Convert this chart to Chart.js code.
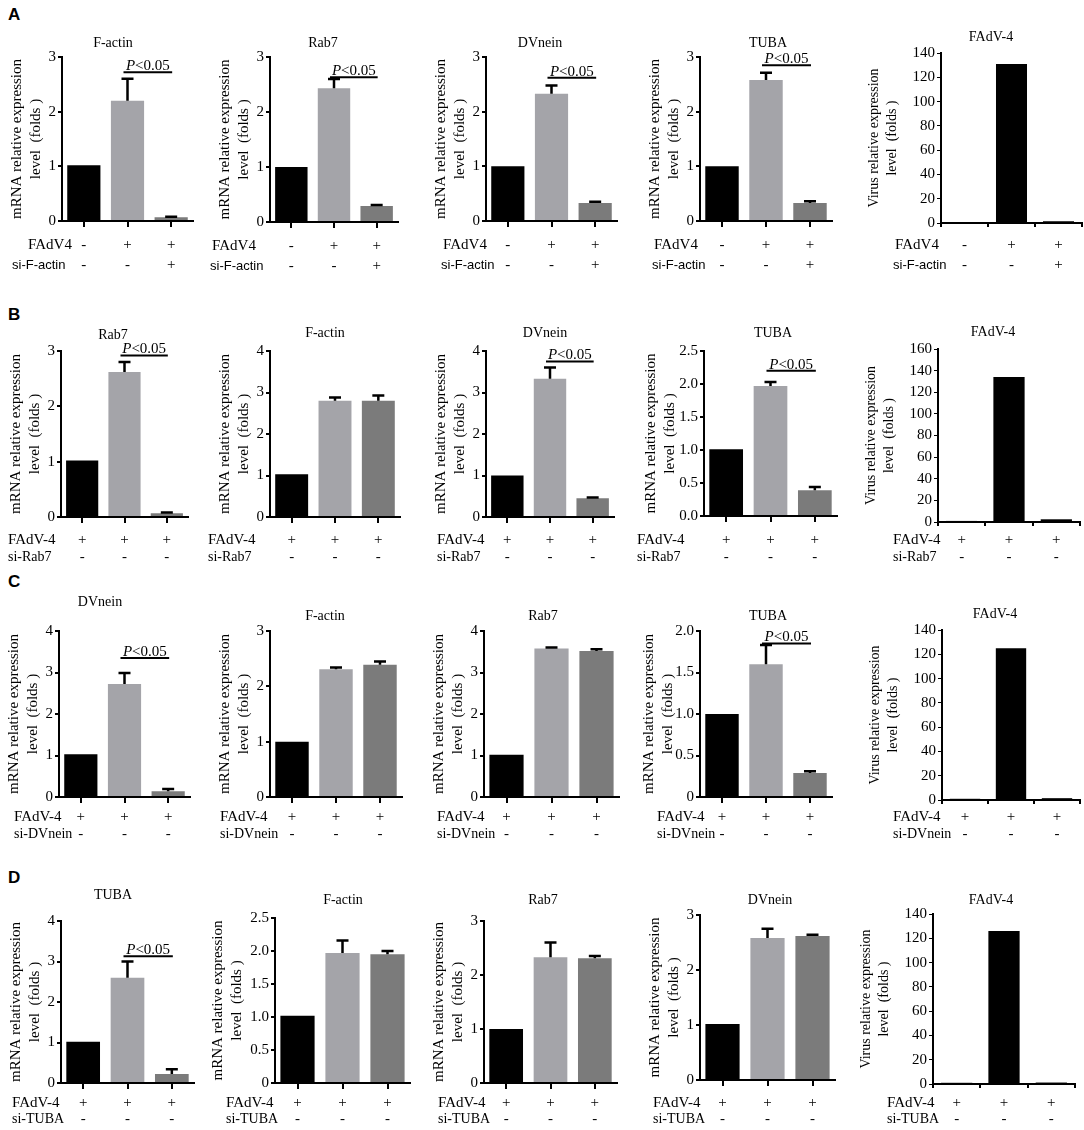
<!DOCTYPE html>
<html>
<head>
<meta charset="utf-8">
<script src="https://cdn.jsdelivr.net/npm/chart.js@4.4.1/dist/chart.umd.min.js"></script>
<style>
  body { margin: 0; background: #fff; width: 1084px; height: 1130px; position: relative; overflow: hidden; }
  canvas { position: absolute; }
  .letter { position: absolute; font: bold 17px 'Liberation Sans', Arial, sans-serif; color: #000; }
</style>
</head>
<body>
<div class="letter" style="left:8px;top:5px">A</div>
<div class="letter" style="left:8px;top:305px">B</div>
<div class="letter" style="left:8px;top:572px">C</div>
<div class="letter" style="left:8px;top:868px">D</div>
<script>
// --- groups and condition rows ---
const conditions = ['Mock', 'FAdV-4', 'FAdV-4 + siRNA'];
const infectA = ['-', '+', '+'];
const knockA = ['-', '-', '+'];
const infectBCD = ['+', '+', '+'];
const knockBCD = ['-', '-', '-'];
const rowNamesA = ['FAdV4', 'si-F-actin'];
const rowNamesB = ['FAdV-4', 'si-Rab7'];
const rowNamesC = ['FAdV-4', 'si-DVnein'];
const rowNamesD = ['FAdV-4', 'si-TUBA'];

// --- y tick labels ---
const ticks3 = ['0', '1', '2', '3'];
const ticks4 = ['0', '1', '2', '3', '4'];
const ticksTubaB = ['0.0', '0.5', '1.0', '1.5', '2.0', '2.5'];
const ticksTubaC = ['0', '0.5', '1.0', '1.5', '2.0'];
const ticksFactinD = ['0', '0.5', '1.0', '1.5', '2.0', '2.5'];
const ticksVirus140 = ['0', '20', '40', '60', '80', '100', '120', '140'];
const ticksVirus160 = ['0', '20', '40', '60', '80', '100', '120', '140', '160'];

// --- A: si-F-actin ---
const aFactin = [1.02, 2.2, 0.07];
const aFactinErr = [0, 0.4, 0.01];
const aRab7 = [1.0, 2.43, 0.29];
const aRab7Err = [0, 0.17, 0.02];
const aDvnein = [1.0, 2.33, 0.33];
const aDvneinErr = [0, 0.15, 0.02];
const aTuba = [1.0, 2.58, 0.33];
const aTubaErr = [0, 0.13, 0.03];
const aVirus = [0, 131, 1.5];
const sigA = [2.72, 2.63, 2.62, 2.85, null];

// --- B: si-Rab7 ---
const bRab7 = [1.02, 2.62, 0.07];
const bRab7Err = [0, 0.18, 0.01];
const bFactin = [1.03, 2.8, 2.8];
const bFactinErr = [0, 0.08, 0.13];
const bDvnein = [1.0, 3.33, 0.45];
const bDvneinErr = [0, 0.27, 0.02];
const bTuba = [1.01, 1.97, 0.39];
const bTubaErr = [0, 0.06, 0.05];
const bVirus = [1, 134, 2.5];
const sigB = [2.92, null, 3.75, 2.2, null];

// --- C: si-DVnein ---
const cDvnein = [1.03, 2.72, 0.14];
const cDvneinErr = [0, 0.27, 0.05];
const cFactin = [1.0, 2.31, 2.39];
const cFactinErr = [0, 0.03, 0.06];
const cRab7 = [1.02, 3.58, 3.52];
const cRab7Err = [0, 0.02, 0.04];
const cTuba = [1.0, 1.6, 0.29];
const cTubaErr = [0, 0.23, 0.02];
const cVirus = [1, 125, 1.5];
const sigC = [3.35, null, null, 1.85, null];

// --- D: si-TUBA ---
const dTuba = [1.02, 2.6, 0.22];
const dTubaErr = [0, 0.4, 0.12];
const dFactin = [1.02, 1.97, 1.95];
const dFactinErr = [0, 0.19, 0.05];
const dRab7 = [1.0, 2.33, 2.31];
const dRab7Err = [0, 0.27, 0.04];
const dDvnein = [1.02, 2.58, 2.62];
const dDvneinErr = [0, 0.17, 0.02];
const dVirus = [1, 126, 1.2];
const sigD = [3.13, null, null, null, null];

const FONT = "'Liberation Serif', 'Times New Roman', serif";
const SANS = "'Liberation Sans', Arial, sans-serif";
const barColors = ['#000000', '#a4a4a9', '#7b7b7b'];
const virusColors = ['#000000', '#000000', '#000000'];

const panels = [
  { title: 'F-actin', vals: aFactin, err: aFactinErr, sig: sigA[0], ticks: ticks3, names: rowNamesA, signs: [infectA, knockA] },
  { title: 'Rab7', vals: aRab7, err: aRab7Err, sig: sigA[1], ticks: ticks3, names: rowNamesA, signs: [infectA, knockA] },
  { title: 'DVnein', vals: aDvnein, err: aDvneinErr, sig: sigA[2], ticks: ticks3, names: rowNamesA, signs: [infectA, knockA] },
  { title: 'TUBA', vals: aTuba, err: aTubaErr, sig: sigA[3], ticks: ticks3, names: rowNamesA, signs: [infectA, knockA] },
  { title: 'FAdV-4', vals: aVirus, virus: true, ticks: ticksVirus140, names: rowNamesA, signs: [infectA, knockA] },

  { title: 'Rab7', vals: bRab7, err: bRab7Err, sig: sigB[0], ticks: ticks3, names: rowNamesB, signs: [infectBCD, knockBCD] },
  { title: 'F-actin', vals: bFactin, err: bFactinErr, sig: sigB[1], ticks: ticks4, names: rowNamesB, signs: [infectBCD, knockBCD] },
  { title: 'DVnein', vals: bDvnein, err: bDvneinErr, sig: sigB[2], ticks: ticks4, names: rowNamesB, signs: [infectBCD, knockBCD] },
  { title: 'TUBA', vals: bTuba, err: bTubaErr, sig: sigB[3], ticks: ticksTubaB, names: rowNamesB, signs: [infectBCD, knockBCD] },
  { title: 'FAdV-4', vals: bVirus, virus: true, ticks: ticksVirus160, names: rowNamesB, signs: [infectBCD, knockBCD] },

  { title: 'DVnein', vals: cDvnein, err: cDvneinErr, sig: sigC[0], ticks: ticks4, names: rowNamesC, signs: [infectBCD, knockBCD] },
  { title: 'F-actin', vals: cFactin, err: cFactinErr, sig: sigC[1], ticks: ticks3, names: rowNamesC, signs: [infectBCD, knockBCD] },
  { title: 'Rab7', vals: cRab7, err: cRab7Err, sig: sigC[2], ticks: ticks4, names: rowNamesC, signs: [infectBCD, knockBCD] },
  { title: 'TUBA', vals: cTuba, err: cTubaErr, sig: sigC[3], ticks: ticksTubaC, names: rowNamesC, signs: [infectBCD, knockBCD] },
  { title: 'FAdV-4', vals: cVirus, virus: true, ticks: ticksVirus140, names: rowNamesC, signs: [infectBCD, knockBCD] },

  { title: 'TUBA', vals: dTuba, err: dTubaErr, sig: sigD[0], ticks: ticks4, names: rowNamesD, signs: [infectBCD, knockBCD] },
  { title: 'F-actin', vals: dFactin, err: dFactinErr, sig: sigD[1], ticks: ticksFactinD, names: rowNamesD, signs: [infectBCD, knockBCD] },
  { title: 'Rab7', vals: dRab7, err: dRab7Err, sig: sigD[2], ticks: ticks3, names: rowNamesD, signs: [infectBCD, knockBCD] },
  { title: 'DVnein', vals: dDvnein, err: dDvneinErr, sig: sigD[3], ticks: ticks3, names: rowNamesD, signs: [infectBCD, knockBCD] },
  { title: 'FAdV-4', vals: dVirus, virus: true, ticks: ticksVirus140, names: rowNamesD, signs: [infectBCD, knockBCD] }
];

// page layout: plot box [left, right, top, bottom], y-axis width, title centre, row label starts, row offsets
const layout = [
  { box: [62, 193, 57, 221], yW: 54, tx: 113, ty: 43, lx: [28, 12], rows: [24, 44] },
  { box: [270, 398, 57, 222], yW: 54, tx: 323, ty: 43, lx: [212, 210], rows: [24, 44] },
  { box: [486, 617, 57, 221], yW: 54, tx: 540, ty: 43, lx: [443, 441], rows: [24, 44] },
  { box: [700, 832, 57, 221], yW: 54, tx: 768, ty: 43, lx: [654, 652], rows: [24, 44] },
  { box: [941, 1082, 53, 223], yW: 75, tx: 991, ty: 37, lx: [895, 893], rows: [22, 42] },

  { box: [61, 188, 351, 517], yW: 54, tx: 113, ty: 335, lx: [8, 8], rows: [23, 40] },
  { box: [270, 400, 351, 517], yW: 54, tx: 325, ty: 333, lx: [208, 208], rows: [23, 40] },
  { box: [486, 614, 351, 517], yW: 54, tx: 545, ty: 333, lx: [437, 437], rows: [23, 40] },
  { box: [704, 837, 351, 516], yW: 62, tx: 773, ty: 333, lx: [637, 637], rows: [24, 41] },
  { box: [938, 1080, 349, 522], yW: 75, tx: 993, ty: 332, lx: [893, 893], rows: [18, 35] },

  { box: [59, 190, 631, 797], yW: 54, tx: 100, ty: 602, lx: [14, 14], rows: [20, 37] },
  { box: [270, 402, 631, 797], yW: 54, tx: 325, ty: 616, lx: [220, 220], rows: [20, 37] },
  { box: [484, 619, 631, 797], yW: 54, tx: 543, ty: 616, lx: [437, 437], rows: [20, 37] },
  { box: [700, 832, 631, 797], yW: 60, tx: 768, ty: 616, lx: [657, 657], rows: [20, 37] },
  { box: [942, 1080, 630, 800], yW: 75, tx: 995, ty: 614, lx: [893, 893], rows: [17, 34] },

  { box: [61, 194, 921, 1083], yW: 54, tx: 113, ty: 895, lx: [12, 12], rows: [20, 36] },
  { box: [275, 410, 918, 1083], yW: 66, tx: 343, ty: 900, lx: [226, 226], rows: [20, 36] },
  { box: [484, 617, 921, 1083], yW: 54, tx: 543, ty: 900, lx: [438, 438], rows: [20, 36] },
  { box: [700, 835, 915, 1080], yW: 54, tx: 770, ty: 900, lx: [653, 653], rows: [23, 39] },
  { box: [933, 1075, 914, 1084], yW: 75, tx: 991, ty: 900, lx: [887, 887], rows: [19, 35] }
];

const PADL = 80, PADT = 60, PADR = 8, PADB = 52, XH = 8;

function makeDecor(p, g, cLeft, cTop, rowA) {
    return {
        id: 'decor',
        afterDraw(chart) {
            const ctx = chart.ctx;
            const meta = chart.getDatasetMeta(0);
            const yScale = chart.scales.y;
            const area = chart.chartArea;
            ctx.save();
            ctx.strokeStyle = '#000';
            ctx.fillStyle = '#000';

            // error bars (upper half only, like the original)
            if (p.err) {
                p.err.forEach((e, i) => {
                    if (!e) return;
                    const x = meta.data[i].x;
                    const y0 = yScale.getPixelForValue(p.vals[i]);
                    const y1 = yScale.getPixelForValue(p.vals[i] + e);
                    ctx.lineWidth = 2.5;
                    ctx.beginPath();
                    ctx.moveTo(x, y0);
                    ctx.lineTo(x, y1);
                    ctx.moveTo(x - 6, y1);
                    ctx.lineTo(x + 6, y1);
                    ctx.stroke();
                });
            }

            // significance line + P<0.05
            if (p.sig != null) {
                const x1 = meta.data[1].x - 4;
                const x2 = meta.data[2].x + 1;
                const ys = yScale.getPixelForValue(p.sig);
                ctx.lineWidth = 2;
                ctx.beginPath();
                ctx.moveTo(x1, ys);
                ctx.lineTo(x2, ys);
                ctx.stroke();
                ctx.textAlign = 'left';
                ctx.textBaseline = 'alphabetic';
                ctx.font = 'italic 15px ' + FONT;
                const wP = ctx.measureText('P').width;
                ctx.font = '15px ' + FONT;
                const wR = ctx.measureText('<0.05').width;
                const tx = (x1 + x2) / 2 - (wP + wR) / 2;
                ctx.font = 'italic 15px ' + FONT;
                ctx.fillText('P', tx, ys - 2);
                ctx.font = '15px ' + FONT;
                ctx.fillText('<0.05', tx + wP, ys - 2);
            }

            // panel title
            ctx.font = '14px ' + FONT;
            ctx.textAlign = 'center';
            ctx.textBaseline = 'middle';
            ctx.fillText(p.title, g.tx - cLeft, g.ty - cTop);

            // condition rows
            g.rows.forEach((dy, r) => {
                const yy = area.bottom + dy;
                ctx.textAlign = 'left';
                if (r === 0) ctx.font = '15px ' + FONT;
                else ctx.font = rowA ? '13px ' + SANS : '14px ' + FONT;
                ctx.fillText(p.names[r], g.lx[r] - cLeft, yy);
                ctx.textAlign = 'center';
                ctx.font = '15px ' + FONT;
                p.signs[r].forEach((s, i) => ctx.fillText(s, meta.data[i].x, yy));
            });
            ctx.restore();
        }
    };
}

panels.forEach((p, k) => {
    const g = layout[k];
    const [left, right, top, bottom] = g.box;
    const canvas = document.createElement('canvas');
    canvas.width = right - left + PADL + PADR;
    canvas.height = bottom - top + PADT + PADB;
    const cLeft = left - PADL, cTop = top - PADT;
    canvas.style.left = cLeft + 'px';
    canvas.style.top = cTop + 'px';
    document.body.appendChild(canvas);

    const yMax = parseFloat(p.ticks[p.ticks.length - 1]);
    const step = yMax / (p.ticks.length - 1);

    new Chart(canvas, {
        type: 'bar',
        data: {
            labels: conditions,
            datasets: [{
                data: p.vals,
                backgroundColor: p.virus ? virusColors : barColors,
                borderWidth: 0,
                barPercentage: p.virus ? 0.66 : 0.76,
                categoryPercentage: 1
            }]
        },
        options: {
            responsive: false,
            animation: false,
            devicePixelRatio: 1,
            layout: { padding: { left: PADL - g.yW, right: PADR, top: PADT, bottom: PADB - XH } },
            plugins: { legend: { display: false }, tooltip: { enabled: false } },
            scales: {
                x: {
                    offset: true,
                    grid: { offset: !!p.virus, drawOnChartArea: false, drawTicks: true, tickLength: p.virus ? 4 : 6, color: '#000', lineWidth: 2 },
                    border: { color: '#000', width: 2 },
                    ticks: { display: false },
                    afterFit: s => { s.height = XH; }
                },
                y: {
                    min: 0,
                    max: yMax,
                    ticks: {
                        stepSize: step,
                        color: '#000',
                        padding: 2,
                        font: { family: FONT, size: 15 },
                        callback: v => p.ticks[Math.round(v / step)]
                    },
                    grid: { drawOnChartArea: false, drawTicks: true, tickLength: 4, color: '#000', lineWidth: p.virus ? 1 : 2 },
                    border: { color: '#000', width: 2 },
                    title: {
                        display: true,
                        text: [p.virus ? 'Virus relative expression' : 'mRNA relative expression', 'level  (folds )'],
                        color: '#000',
                        padding: 0,
                        font: { family: FONT, size: p.virus ? 14 : 15, lineHeight: 1.25 }
                    },
                    afterFit: s => { s.width = g.yW; }
                }
            }
        },
        plugins: [makeDecor(p, g, cLeft, cTop, k < 5)]
    });
});
</script>
</body>
</html>
